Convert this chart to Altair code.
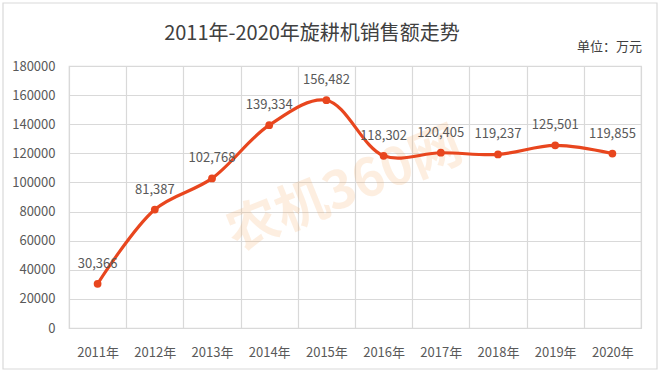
import altair as alt
import pandas as pd

years = ["2011年", "2012年", "2013年", "2014年", "2015年", "2016年", "2017年", "2018年", "2019年", "2020年"]
sales = [30366, 81387, 102768, 139334, 156482, 118302, 120405, 119237, 125501, 119855]
y_ticks = [0, 20000, 40000, 60000, 80000, 100000, 120000, 140000, 160000, 180000]

df = pd.DataFrame({"year": years, "sales": sales})
df["label"] = [f"{v:,}" for v in sales]

FONT = "Noto Sans CJK SC"
LINE = "#E8461E"
GRAY = "#595959"

x = alt.X("year:N", sort=years, title=None, bandPosition=0.5,
          scale=alt.Scale(type="band", paddingInner=0, paddingOuter=0),
          axis=alt.Axis(tickBand="extent", labelAngle=0, ticks=False, domain=False,
                        grid=True, gridColor="#d9d9d9", gridWidth=1.2,
                        labelColor=GRAY, labelFontSize=13, labelFont=FONT, labelPadding=18))
y = alt.Y("sales:Q", title=None,
          scale=alt.Scale(domain=[0, 180000], nice=False),
          axis=alt.Axis(values=y_ticks, format="d", grid=True, gridColor="#d9d9d9", gridWidth=1.2,
                        ticks=False, domain=False, labelColor=GRAY, labelFontSize=13,
                        labelFont=FONT, labelPadding=14))

base = alt.Chart(df).encode(x=x, y=y)

line = base.mark_line(color=LINE, strokeWidth=3.2, interpolate="catmull-rom")
pts = base.mark_point(color=LINE, filled=True, size=60, opacity=1)
labels = base.mark_text(dy=-20, fontSize=13, font=FONT, color=GRAY).encode(text="label:N")

one = pd.DataFrame({"t": ["农机360网"]})

wm = alt.Chart(one).mark_text(
    font=FONT, fontSize=52, fontWeight="bold", color="#F5A050", opacity=0.17, angle=338
).encode(text="t:N", x=alt.value(276), y=alt.value(124))

frame = alt.Chart(one).mark_rect(fillOpacity=0, stroke="#d9d9d9", strokeWidth=1.2).encode(
    x=alt.value(-66), x2=alt.value(588), y=alt.value(-63), y2=alt.value(303))

title = alt.Chart(pd.DataFrame({"t": ["2011年-2020年旋耕机销售额走势"]})).mark_text(
    font=FONT, fontSize=20, color="#404040", align="center", baseline="middle"
).encode(text="t:N", x=alt.value(243), y=alt.value(-32))

unit = alt.Chart(pd.DataFrame({"t": ["单位：万元"]})).mark_text(
    font=FONT, fontSize=13, color="#404040", align="right", baseline="middle"
).encode(text="t:N", x=alt.value(573), y=alt.value(-19))

chart = alt.layer(frame, wm, line, pts, labels, title, unit).properties(
    width=572, height=262,
    autosize=alt.AutoSizeParams(type="none"),
    padding={"left": 69, "top": 66, "right": 19, "bottom": 44},
    background="white",
).configure_view(stroke="#d9d9d9", strokeWidth=1.2)

chart.save("out.html", embed_options={"renderer": "svg", "actions": False})
